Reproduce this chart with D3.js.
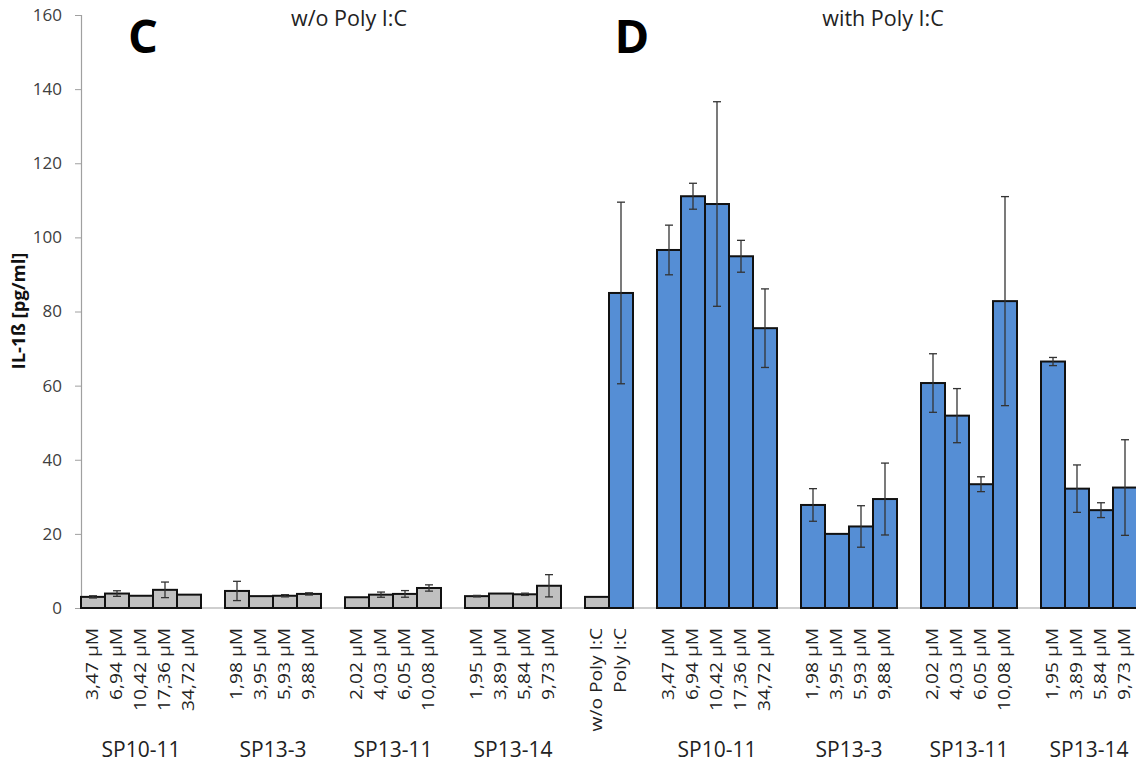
<!DOCTYPE html>
<html>
<head>
<meta charset="utf-8">
<script src="https://cdn.jsdelivr.net/npm/d3@7"></script>
<style>
  html, body { margin: 0; padding: 0; background: #fff; }
  svg { display: block; font-family: "Open Sans", sans-serif; }
</style>
</head>
<body>
<svg id="chart" width="1136" height="765"></svg>
<script>
// ---------- data ----------
const groupNames = ["SP10-11", "SP13-3", "SP13-11", "SP13-14"];
const concLabels = [
  ["3,47 µM", "6,94 µM", "10,42 µM", "17,36 µM", "34,72 µM"],
  ["1,98 µM", "3,95 µM", "5,93 µM", "9,88 µM"],
  ["2,02 µM", "4,03 µM", "6,05 µM", "10,08 µM"],
  ["1,95 µM", "3,89 µM", "5,84 µM", "9,73 µM"]
];
// panel C: without Poly I:C
const valuesC = [
  [3.0, 3.9, 3.3, 4.9, 3.6],
  [4.6, 3.2, 3.3, 3.8],
  [2.9, 3.6, 3.8, 5.4],
  [3.2, 3.9, 3.7, 6.0]
];
const errorsC = [
  [0.3, 0.75, 0, 2.1, 0],
  [2.6, 0, 0.3, 0.3],
  [0, 0.7, 0.9, 0.85],
  [0.2, 0, 0.3, 3.0]
];
// controls
const controlLabels = ["w/o Poly I:C", "Poly I:C"];
const controlValues = [3.0, 85.0];
const controlErrors = [0, 24.5];
// panel D: with Poly I:C
const valuesD = [
  [96.6, 111.1, 109.0, 94.9, 75.5],
  [27.8, 20.0, 22.0, 29.4],
  [60.7, 51.9, 33.4, 82.8],
  [66.5, 32.2, 26.4, 32.5]
];
const errorsD = [
  [6.7, 3.5, 27.6, 4.3, 10.6],
  [4.4, 0, 5.6, 9.7],
  [7.9, 7.3, 2.0, 28.2],
  [1.1, 6.4, 2.0, 12.9]
];
const yTicks = [0, 20, 40, 60, 80, 100, 120, 140, 160];
const panelTitles = ["w/o Poly I:C", "with Poly I:C"];
const panelLetters = ["C", "D"];
const yTitle = "IL-1ß [pg/ml]";

// ---------- build slot table ----------
const slots = [];
const groupSpans = [];
let sid = 0;
function addGroup(panel, values, errors) {
  groupNames.forEach((g, gi) => {
    const ids = [];
    values[gi].forEach((v, i) => {
      slots.push({id: sid, label: concLabels[gi][i], value: v, err: errors[gi][i], kind: panel});
      ids.push(sid); sid++;
    });
    groupSpans.push({name: g, ids});
    slots.push({id: sid, gap: true}); sid++;
  });
}
addGroup("C", valuesC, errorsC);
controlLabels.forEach((l, i) => {
  slots.push({id: sid, label: l, value: controlValues[i], err: controlErrors[i], kind: i === 0 ? "C" : "D"});
  sid++;
});
slots.push({id: sid, gap: true}); sid++;
addGroup("D", valuesD, errorsD);
slots.pop();

// ---------- scales ----------
const svg = d3.select("#chart");
const x = d3.scaleBand().domain(slots.map(d => d.id)).range([81, 1137]).padding(0);
const y = d3.scaleLinear().domain([0, 160]).range([608, 15]);
const bars = slots.filter(d => !d.gap);

// axes
const yAxis = svg.append("g").attr("transform", "translate(81,0)")
  .call(d3.axisLeft(y).tickValues(yTicks).tickSize(6).tickPadding(13));
yAxis.select(".domain").attr("stroke", "#a0a0a0").attr("stroke-width", 1.2);
yAxis.selectAll(".tick line").attr("stroke", "#a0a0a0");
yAxis.selectAll(".tick text").attr("font-size", 17).attr("fill", "#404040")
  .attr("font-family", "Open Sans, sans-serif");

svg.append("line").attr("x1", 81).attr("x2", 1136).attr("y1", y(0)).attr("y2", y(0))
  .attr("stroke", "#a0a0a0").attr("stroke-width", 1.2);

// bars
svg.append("g").selectAll("rect").data(bars).join("rect")
  .attr("x", d => x(d.id))
  .attr("width", x.bandwidth())
  .attr("y", d => y(d.value))
  .attr("height", d => y(0) - y(d.value))
  .attr("fill", d => d.kind === "C" ? "#c0c0c0" : "#558ed5")
  .attr("stroke", "#111")
  .attr("stroke-width", 2);

// error bars
const eb = svg.append("g").attr("stroke", "#333").attr("stroke-width", 1.3);
bars.filter(d => d.err > 0).forEach(d => {
  const cx = x(d.id) + x.bandwidth() / 2;
  const y1 = y(d.value + d.err), y2 = y(d.value - d.err);
  eb.append("line").attr("x1", cx).attr("x2", cx).attr("y1", y1).attr("y2", y2);
  eb.append("line").attr("x1", cx - 4).attr("x2", cx + 4).attr("y1", y1).attr("y2", y1);
  eb.append("line").attr("x1", cx - 4).attr("x2", cx + 4).attr("y1", y2).attr("y2", y2);
});

// category labels (rotated)
svg.append("g").selectAll("text").data(bars).join("text")
  .attr("transform", d => `translate(${x(d.id) + x.bandwidth() / 2 + 5},628) rotate(-90) scale(1.2,1)`)
  .attr("text-anchor", "end")
  .attr("font-size", 16)
  .attr("fill", "#222")
  .text(d => d.label);

// group labels
svg.append("g").selectAll("text").data(groupSpans).join("text")
  .attr("x", d => (x(d.ids[0]) + x(d.ids[d.ids.length - 1]) + x.bandwidth()) / 2)
  .attr("y", 757)
  .attr("text-anchor", "middle")
  .attr("font-size", 21)
  .attr("fill", "#222")
  .text(d => d.name);

// panel titles & letters
const panelCenters = [349, 883];
const letterX = [143, 632];
panelTitles.forEach((t, i) => {
  svg.append("text").attr("x", panelCenters[i]).attr("y", 26)
    .attr("text-anchor", "middle").attr("font-size", 21.5).attr("fill", "#222").text(t);
  svg.append("text").attr("x", letterX[i]).attr("y", 53)
    .attr("text-anchor", "middle").attr("font-size", 47).attr("font-weight", "bold")
    .attr("fill", "#000").text(panelLetters[i]);
});

// y title
svg.append("text")
  .attr("transform", "translate(25,311) rotate(-90)")
  .attr("text-anchor", "middle")
  .attr("font-size", 18.5)
  .attr("font-weight", "bold")
  .attr("fill", "#111")
  .text(yTitle);
</script>
</body>
</html>
